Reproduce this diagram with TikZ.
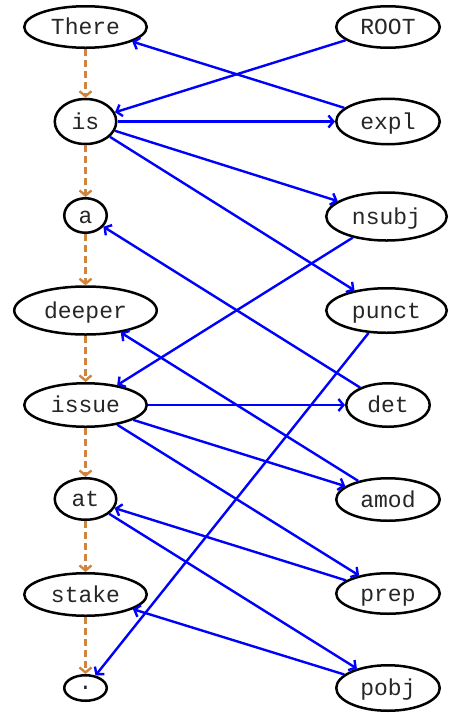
\documentclass[tikz,border=0pt]{standalone}
\usepackage{fontspec}
\setmonofont{Liberation Mono}
\usetikzlibrary{arrows.meta,shapes.geometric}
\begin{document}
\begin{tikzpicture}[x=1pt,y=-1pt,
  tok/.style={ellipse,draw=black,line width=2.5pt,inner sep=0pt,
    font=\ttfamily\fontsize{23}{23}\selectfont,text=black!85,
    text height=15pt,text depth=0pt},
  dotok/.style={ellipse,draw=black,line width=2.5pt,inner sep=0pt,
    font=\ttfamily\fontsize{23}{23}\selectfont,text=black!85},
  dep/.style={draw=blue,line width=2.4pt,-{Straight Barb[length=5pt,width=12pt]}},
  seq/.style={draw={rgb,255:red,205;green,133;blue,63},line width=2.4pt,
    dash pattern=on 7pt off 4pt,-{Straight Barb[length=5pt,width=12pt]}}]
\useasboundingbox (0,0) rectangle (449,713);
% left column
\node[tok,minimum width=122.5pt,minimum height=41.5pt] (There) at (85.5,27) {There};
\node[tok,minimum width=61.5pt,minimum height=45pt] (is) at (85.5,121.5) {is};
\node[tok,minimum width=42.5pt,minimum height=34.5pt] (a) at (85.5,215.5) {a};
\node[tok,minimum width=142.5pt,minimum height=48pt] (deeper) at (85.5,310.5) {deeper};
\node[tok,minimum width=122.5pt,minimum height=43.5pt] (issue) at (85.5,405) {issue};
\node[tok,minimum width=61.5pt,minimum height=41.5pt] (at) at (85.5,499) {at};
\node[tok,minimum width=122.5pt,minimum height=42.5pt] (stake) at (85.5,594.5) {stake};
\node[dotok,minimum width=42.5pt,minimum height=25.5pt] (dot) at (85.5,688) {.};
% right column
\node[tok,minimum width=103.5pt,minimum height=41.5pt] (ROOT) at (388,27) {ROOT};
\node[tok,minimum width=103.5pt,minimum height=45.5pt] (expl) at (388,121.5) {expl};
\node[tok,minimum width=120.5pt,minimum height=48pt] (nsubj) at (386.5,216.5) {nsubj};
\node[tok,minimum width=120.5pt,minimum height=44.5pt] (punct) at (386.5,310.5) {punct};
\node[tok,minimum width=83.5pt,minimum height=43.5pt] (det) at (388,405) {det};
\node[tok,minimum width=103.5pt,minimum height=42.5pt] (amod) at (388,499.5) {amod};
\node[tok,minimum width=103.5pt,minimum height=40.5pt] (prep) at (388,593.5) {prep};
\node[tok,minimum width=103.5pt,minimum height=45.5pt] (pobj) at (388,688) {pobj};
% sequence
\draw[seq] (There) -- (is);
\draw[seq] (is) -- (a);
\draw[seq] (a) -- (deeper);
\draw[seq] (deeper) -- (issue);
\draw[seq] (issue) -- (at);
\draw[seq] (at) -- (stake);
\draw[seq] (stake) -- (dot);
% dependencies
\draw[dep] (ROOT) -- (is);
\draw[dep] (expl) -- (There);
\draw[dep] (is) -- (expl);
\draw[dep] (is) -- (nsubj);
\draw[dep] (is) -- (punct);
\draw[dep] (nsubj) -- (issue);
\draw[dep] (det) -- (a);
\draw[dep] (amod) -- (deeper);
\draw[dep] (issue) -- (det);
\draw[dep] (issue) -- (amod);
\draw[dep] (issue) -- (prep);
\draw[dep] (punct) -- (dot);
\draw[dep] (prep) -- (at);
\draw[dep] (at) -- (pobj);
\draw[dep] (pobj) -- (stake);
\end{tikzpicture}
\end{document}
